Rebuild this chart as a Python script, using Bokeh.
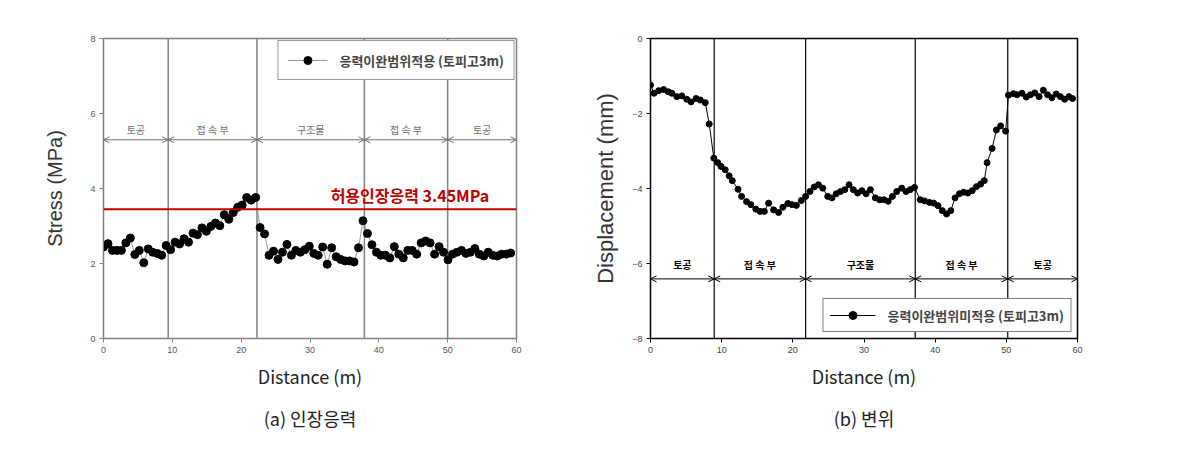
from bokeh.plotting import figure
from bokeh.layouts import row
from bokeh.models import ColumnDataSource, Span, Label, Arrow, OpenHead, Title, FixedTicker, Range1d
from bokeh.core.properties import value
from bokeh.embed import file_html
from bokeh.resources import INLINE

KR = "Noto Sans CJK KR"
SANS = "Liberation Sans"

# ---------------- data ----------------
x_ticks = [0, 10, 20, 30, 40, 50, 60]
stress_ticks = [0, 2, 4, 6, 8]
disp_ticks = [-8, -6, -4, -2, 0]

region_names = ["토공", "접 속 부", "구조물", "접 속 부", "토공"]
bounds_a = [0, 9.4, 22.3, 37.9, 50.0, 60]
bounds_b = [0, 8.95, 21.8, 37.2, 50.2, 60]

allow_stress = 3.45
allow_label = "허용인장응력 3.45MPa"
legend_a = "응력이완범위적용 (토피고3m)"
legend_b = "응력이완범위미적용 (토피고3m)"

dist_a = [0.0, 0.65, 1.3, 1.95, 2.6, 3.25, 3.9, 4.55, 5.2, 5.85,
          6.5, 7.15, 7.8, 8.45, 9.1, 9.75, 10.4, 11.05, 11.7, 12.35,
          13.0, 13.65, 14.3, 14.95, 15.6, 16.25, 16.9, 17.55, 18.2, 18.85,
          19.5, 20.15, 20.8, 21.45, 22.1, 22.75, 23.4, 24.05, 24.7, 25.35,
          26.0, 26.65, 27.3, 27.95, 28.6, 29.25, 29.9, 30.55, 31.2, 31.85,
          32.5, 33.15, 33.8, 34.45, 35.1, 35.75, 36.4, 37.05, 37.7, 38.35,
          39.0, 39.65, 40.3, 40.95, 41.6, 42.25, 42.9, 43.55, 44.2, 44.85,
          45.5, 46.15, 46.8, 47.45, 48.1, 48.75, 49.4, 50.05, 50.7, 51.35,
          52.0, 52.65, 53.3, 53.95, 54.6, 55.25, 55.9, 56.55, 57.2, 57.85,
          58.5, 59.15]
stress_a = [2.44, 2.53, 2.35, 2.35, 2.35, 2.55, 2.68, 2.24, 2.35, 2.02,
            2.39, 2.30, 2.27, 2.22, 2.48, 2.37, 2.57, 2.52, 2.66, 2.57,
            2.81, 2.77, 2.95, 2.86, 2.99, 3.08, 3.01, 3.30, 3.18, 3.36,
            3.50, 3.56, 3.76, 3.69, 3.76, 2.96, 2.79, 2.22, 2.33, 2.11,
            2.30, 2.51, 2.22, 2.35, 2.30, 2.37, 2.46, 2.27, 2.22, 2.44,
            1.98, 2.42, 2.18, 2.11, 2.07, 2.07, 2.04, 2.42, 3.14, 2.80,
            2.50, 2.30, 2.22, 2.22, 2.15, 2.45, 2.25, 2.15, 2.35, 2.35,
            2.25, 2.55, 2.60, 2.55, 2.25, 2.45, 2.30, 2.10, 2.25, 2.30,
            2.35, 2.27, 2.30, 2.40, 2.25, 2.20, 2.30, 2.22, 2.20, 2.25,
            2.25, 2.28]

dist_b = [0.0, 0.5, 1.15, 1.85, 2.5, 3.0, 3.7, 4.4, 5.1, 5.7,
          6.4, 7.0, 7.7, 8.25, 8.9, 9.45, 9.9, 10.5, 11.05, 11.5,
          12.3, 12.8, 13.5, 14.1, 14.8, 15.4, 16.0, 16.6, 17.3, 18.0,
          18.6, 19.3, 19.9, 20.5, 21.2, 21.8, 22.4, 23.0, 23.6, 24.2,
          24.9, 25.5, 26.1, 26.7, 27.3, 27.9, 28.5, 29.1, 29.7, 30.3,
          30.9, 31.6, 32.2, 32.8, 33.4, 34.0, 34.6, 35.3, 35.9, 36.5,
          37.1, 37.9, 38.5, 39.2, 39.8, 40.4, 41.0, 41.6, 42.2, 42.8,
          43.4, 44.0, 44.6, 45.2, 45.8, 46.4, 46.9, 47.3, 48.0, 48.6,
          49.2, 49.9, 50.3, 51.0, 51.5, 52.2, 52.8, 53.4, 54.0, 54.6,
          55.2, 55.8, 56.4, 57.0, 57.6, 58.2, 58.8, 59.3]
disp_b = [-1.24, -1.46, -1.39, -1.36, -1.42, -1.46, -1.55, -1.53, -1.62, -1.69,
          -1.60, -1.64, -1.71, -2.28, -3.19, -3.31, -3.41, -3.50, -3.66, -3.79,
          -4.02, -4.21, -4.35, -4.43, -4.55, -4.61, -4.61, -4.39, -4.57, -4.64,
          -4.50, -4.40, -4.43, -4.45, -4.32, -4.21, -4.08, -3.96, -3.90, -3.99,
          -4.21, -4.25, -4.14, -4.08, -4.03, -3.90, -4.03, -4.12, -4.06, -4.14,
          -4.03, -4.25, -4.30, -4.30, -4.34, -4.21, -4.08, -3.99, -4.08, -4.03,
          -3.97, -4.30, -4.33, -4.37, -4.39, -4.46, -4.59, -4.68, -4.59, -4.25,
          -4.14, -4.10, -4.12, -4.06, -3.95, -3.88, -3.79, -3.31, -2.93, -2.44,
          -2.33, -2.47, -1.51, -1.47, -1.50, -1.46, -1.56, -1.50, -1.45, -1.55,
          -1.38, -1.50, -1.58, -1.48, -1.55, -1.62, -1.55, -1.60]


def style_axes(p, col, label_col):
    p.grid.visible = False
    for ax in (p.xaxis, p.yaxis):
        ax.axis_line_color = col
        ax.major_tick_line_color = col
        ax.minor_tick_line_color = None
        ax.major_tick_out = 4
        ax.major_tick_in = 0
        ax.major_label_text_font = SANS
        ax.major_label_text_font_size = "9px"
        ax.major_label_text_color = label_col
        ax.major_label_standoff = 4
    p.xaxis.ticker = FixedTicker(ticks=x_ticks)


def regions(p, bounds, y_arrow, y_text, col, txt_col, bold, y0, y1, vcol, vwidth):
    inner = bounds[1:-1]
    p.segment(x0=inner, y0=[y0] * len(inner), x1=inner, y1=[y1] * len(inner),
              line_color=vcol, line_width=vwidth)
    src = ColumnDataSource(dict(x0=bounds[:-1], x1=bounds[1:],
                                y=[y_arrow] * (len(bounds) - 1)))
    p.add_layout(Arrow(start=OpenHead(size=6, line_color=col, line_width=1),
                       end=OpenHead(size=6, line_color=col, line_width=1),
                       x_start="x0", y_start="y", x_end="x1", y_end="y",
                       line_color=col, line_width=1, source=src))
    mids = [(a + b) / 2 for a, b in zip(bounds[:-1], bounds[1:])]
    p.text(x=mids, y=[y_text] * len(mids), text=region_names,
           text_align="center", text_baseline="middle",
           text_font=value(KR), text_font_size="10px",
           text_font_style="bold" if bold else "normal", text_color=txt_col)


def labels(p, ylab, ysize, ystand, caption):
    p.yaxis.axis_label = ylab
    p.yaxis.axis_label_text_font = SANS
    p.yaxis.axis_label_text_font_size = ysize
    p.yaxis.axis_label_text_font_style = "normal"
    p.yaxis.axis_label_text_color = "#333333"
    p.yaxis.axis_label_standoff = ystand
    p.xaxis.axis_label = "Distance (m)"
    p.xaxis.axis_label_text_font = KR
    p.xaxis.axis_label_text_font_size = "18px"
    p.xaxis.axis_label_text_font_style = "normal"
    p.xaxis.axis_label_text_color = "#222222"
    p.xaxis.axis_label_standoff = 7
    p.add_layout(Title(text=caption, align="center", text_font=KR,
                       text_font_size="18px", text_font_style="normal",
                       text_color="#222222", standoff=23), "below")


def style_legend(lg, loc, margin, border, bw, size, pad, gw):
    lg.location = loc
    lg.margin = margin
    lg.border_line_color = border
    lg.border_line_width = bw
    lg.background_fill_alpha = 1
    lg.label_text_font = KR
    lg.label_text_font_size = size
    lg.label_text_font_style = "bold"
    lg.glyph_width = gw
    lg.padding = pad
    lg.spacing = 0
    lg.label_standoff = 12


# ---------------- (a) stress ----------------
p1 = figure(width=590, height=451, x_range=Range1d(0, 60), y_range=Range1d(0, 8),
            output_backend="svg", toolbar_location=None,
            min_border_left=103, min_border_right=74,
            min_border_top=37, min_border_bottom=111)
p1.outline_line_color = "#808080"
p1.outline_line_width = 1.5
style_axes(p1, "#808080", "#555555")
p1.yaxis.ticker = FixedTicker(ticks=stress_ticks)
regions(p1, bounds_a, 5.3, 5.58, "#707070", "#707070", False, 0, 8, "#808080", 1.5)

p1.line(dist_a, stress_a, line_color="#9a9a9a", line_width=1, legend_label=legend_a)
p1.scatter(dist_a, stress_a, size=8, fill_color="black", line_color="black",
           legend_label=legend_a)
p1.add_layout(Span(location=allow_stress, dimension="width",
                   line_color="#c00000", line_width=2))
p1.add_layout(Label(x=33.0, y=3.83, text=allow_label, text_color="#c00000",
                    text_font=KR, text_font_size="16px", text_font_style="bold",
                    text_baseline="middle"))
labels(p1, "Stress (MPa)", "20px", 21, "(a) 인장응력")
style_legend(p1.legend[0], "top_right", 2, "#333333", 1, "13px", 9, 40)

# ---------------- (b) displacement ----------------
p2 = figure(width=590, height=451, x_range=Range1d(0, 60), y_range=Range1d(-8, 0),
            output_backend="svg", toolbar_location=None,
            min_border_left=58, min_border_right=103,
            min_border_top=38, min_border_bottom=113)
p2.outline_line_color = "black"
p2.outline_line_width = 1.5
style_axes(p2, "black", "#444444")
p2.yaxis.ticker = FixedTicker(ticks=disp_ticks)
regions(p2, bounds_b, -6.41, -6.03, "black", "black", True, -8, 0, "black", 1.2)

p2.line(dist_b, disp_b, line_color="black", line_width=1, legend_label=legend_b)
p2.scatter(dist_b, disp_b, size=6, fill_color="black", line_color="black",
           legend_label=legend_b)
labels(p2, "Displacement (mm)", "22px", 11, "(b) 변위")
style_legend(p2.legend[0], "bottom_right", 6, "black", 1.5, "13px", 6, 46)

layout = row(p1, p2)
open("out.html", "w").write(file_html(layout, INLINE))
